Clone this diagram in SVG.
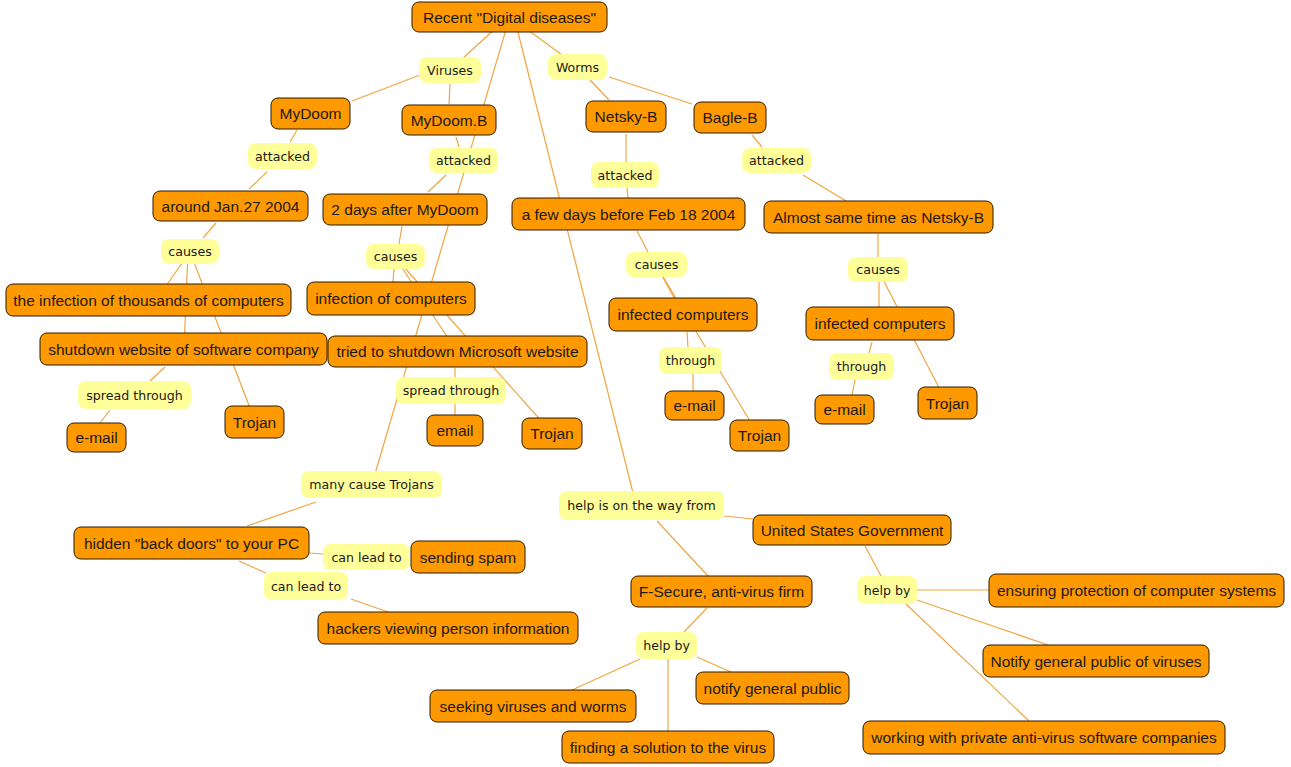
<svg xmlns="http://www.w3.org/2000/svg" width="1291" height="767" viewBox="0 0 1291 767">
<style>
.c rect{fill:#ff9900;stroke:#2a1a00;stroke-width:1}
.c text{font-family:"Liberation Sans",Arial,sans-serif;font-size:15.5px;fill:#1a1a1a;text-anchor:middle}
.l rect{fill:#ffff99;stroke:none}
.l text{font-family:"DejaVu Sans",Verdana,sans-serif;font-size:12.6px;fill:#1a1a1a;text-anchor:middle}
#edges line{stroke:#f0a540;stroke-width:1.2}
</style>
<rect width="1291" height="767" fill="#ffffff"/>
<g id="edges">
<line x1="509" y1="16" x2="450" y2="70"/>
<line x1="420" y1="75" x2="352" y2="101"/>
<line x1="450" y1="84" x2="449" y2="104"/>
<line x1="509" y1="16" x2="577" y2="66"/>
<line x1="590" y1="80" x2="609" y2="100"/>
<line x1="609" y1="77" x2="692" y2="104"/>
<line x1="510" y1="16" x2="372" y2="484"/>
<line x1="514" y1="16" x2="636" y2="505"/>
<line x1="297" y1="130" x2="290" y2="142"/>
<line x1="267" y1="172" x2="249" y2="189"/>
<line x1="456" y1="137" x2="459" y2="147"/>
<line x1="446" y1="175" x2="428" y2="192"/>
<line x1="216" y1="223" x2="203" y2="238"/>
<line x1="190" y1="252" x2="163" y2="290"/>
<line x1="188" y1="252" x2="184" y2="349"/>
<line x1="190" y1="252" x2="255" y2="421"/>
<line x1="165" y1="367" x2="150" y2="381"/>
<line x1="110" y1="410" x2="100" y2="423"/>
<line x1="402" y1="226" x2="399" y2="244"/>
<line x1="394" y1="269" x2="393" y2="282"/>
<line x1="395" y1="257" x2="457" y2="352"/>
<line x1="395" y1="257" x2="552" y2="433"/>
<line x1="455" y1="368" x2="455" y2="378"/>
<line x1="455" y1="403" x2="455" y2="415"/>
<line x1="637" y1="231" x2="648" y2="252"/>
<line x1="656" y1="265" x2="683" y2="314"/>
<line x1="656" y1="265" x2="759" y2="436"/>
<line x1="687" y1="332" x2="688" y2="347"/>
<line x1="693" y1="374" x2="693" y2="391"/>
<line x1="878" y1="234" x2="878" y2="257"/>
<line x1="879" y1="270" x2="879" y2="307"/>
<line x1="878" y1="270" x2="947" y2="403"/>
<line x1="872" y1="342" x2="869" y2="353"/>
<line x1="855" y1="380" x2="852" y2="395"/>
<line x1="752" y1="135" x2="762" y2="147"/>
<line x1="803" y1="175" x2="846" y2="201"/>
<line x1="626" y1="134" x2="626" y2="162"/>
<line x1="627" y1="188" x2="628" y2="198"/>
<line x1="316" y1="502" x2="247" y2="526"/>
<line x1="309" y1="553" x2="323" y2="554"/>
<line x1="239" y1="561" x2="266" y2="573"/>
<line x1="351" y1="599" x2="388" y2="612"/>
<line x1="724" y1="516" x2="753" y2="519"/>
<line x1="657" y1="521" x2="708" y2="576"/>
<line x1="865" y1="546" x2="881" y2="576"/>
<line x1="917" y1="590" x2="989" y2="590"/>
<line x1="917" y1="600" x2="1048" y2="645"/>
<line x1="906" y1="604" x2="1029" y2="721"/>
<line x1="707" y1="608" x2="684" y2="632"/>
<line x1="640" y1="659" x2="572" y2="690"/>
<line x1="668" y1="659" x2="668" y2="731"/>
<line x1="697" y1="657" x2="731" y2="672"/>
</g>
<g id="recent" class="c"><rect x="412" y="2" width="195" height="30" rx="7"/><text x="509.5" y="22.5">Recent "Digital diseases"</text></g>
<g id="viruses" class="l"><rect x="419" y="57" width="62" height="26" rx="8"/><text x="450" y="74.5">Viruses</text></g>
<g id="worms" class="l"><rect x="548" y="54" width="59" height="26" rx="8"/><text x="577.5" y="71.5">Worms</text></g>
<g id="mydoom" class="c"><rect x="271" y="98" width="79" height="31" rx="7"/><text x="310.5" y="119">MyDoom</text></g>
<g id="mydoomb" class="c"><rect x="402" y="105" width="94" height="30" rx="7"/><text x="449" y="125.5">MyDoom.B</text></g>
<g id="netsky" class="c"><rect x="586" y="101" width="80" height="31" rx="7"/><text x="626" y="122">Netsky-B</text></g>
<g id="bagle" class="c"><rect x="694" y="102" width="72" height="31" rx="7"/><text x="730" y="123">Bagle-B</text></g>
<g id="att1" class="l"><rect x="248" y="143" width="69" height="26" rx="8"/><text x="282.5" y="160.5">attacked</text></g>
<g id="att2" class="l"><rect x="429" y="148" width="69" height="25" rx="8"/><text x="463.5" y="165">attacked</text></g>
<g id="att3" class="l"><rect x="591" y="162" width="68" height="26" rx="8"/><text x="625" y="179.5">attacked</text></g>
<g id="att4" class="l"><rect x="742" y="148" width="69" height="25" rx="8"/><text x="776.5" y="165">attacked</text></g>
<g id="jan27" class="c"><rect x="153" y="191" width="155" height="30" rx="7"/><text x="230.5" y="211.5">around Jan.27 2004</text></g>
<g id="twodays" class="c"><rect x="323" y="194" width="164" height="31" rx="7"/><text x="405" y="215">2 days after MyDoom</text></g>
<g id="fewdays" class="c"><rect x="512" y="198" width="233" height="32" rx="7"/><text x="628.5" y="219.5">a few days before Feb 18 2004</text></g>
<g id="almost" class="c"><rect x="764" y="201" width="229" height="32" rx="7"/><text x="878.5" y="222.5">Almost same time as Netsky-B</text></g>
<g id="causes1" class="l"><rect x="161" y="239" width="58" height="25" rx="8"/><text x="190" y="256">causes</text></g>
<g id="causes2" class="l"><rect x="366" y="244" width="59" height="25" rx="8"/><text x="395.5" y="261">causes</text></g>
<g id="causes3" class="l"><rect x="626" y="252" width="61" height="25" rx="8"/><text x="656.5" y="269">causes</text></g>
<g id="causes4" class="l"><rect x="848" y="257" width="60" height="25" rx="8"/><text x="878" y="274">causes</text></g>
<g id="thousands" class="c"><rect x="6" y="284" width="285" height="32" rx="7"/><text x="148.5" y="305.5">the infection of thousands of computers</text></g>
<g id="infection" class="c"><rect x="307" y="282" width="168" height="33" rx="7"/><text x="391" y="304">infection of computers</text></g>
<g id="shutdown" class="c"><rect x="40" y="333" width="287" height="32" rx="7"/><text x="183.5" y="354.5">shutdown website of software company</text></g>
<g id="tried" class="c"><rect x="328" y="336" width="259" height="31" rx="7"/><text x="457.5" y="357">tried to shutdown Microsoft website</text></g>
<g id="infected1" class="c"><rect x="609" y="298" width="148" height="33" rx="7"/><text x="683" y="320">infected computers</text></g>
<g id="infected2" class="c"><rect x="806" y="307" width="148" height="33" rx="7"/><text x="880" y="329">infected computers</text></g>
<g id="spread1" class="l"><rect x="78" y="381" width="113" height="28" rx="8"/><text x="134.5" y="399.5">spread through</text></g>
<g id="spread2" class="l"><rect x="396" y="377" width="110" height="27" rx="8"/><text x="451" y="395">spread through</text></g>
<g id="through1" class="l"><rect x="659" y="347" width="63" height="27" rx="8"/><text x="690.5" y="365">through</text></g>
<g id="through2" class="l"><rect x="829" y="353" width="65" height="27" rx="8"/><text x="861.5" y="371">through</text></g>
<g id="email1" class="c"><rect x="67" y="423" width="59" height="29" rx="7"/><text x="96.5" y="443">e-mail</text></g>
<g id="trojan1" class="c"><rect x="225" y="406" width="59" height="32" rx="7"/><text x="254.5" y="427.5">Trojan</text></g>
<g id="email2" class="c"><rect x="427" y="415" width="56" height="31" rx="7"/><text x="455" y="436">email</text></g>
<g id="trojan2" class="c"><rect x="522" y="418" width="60" height="31" rx="7"/><text x="552" y="439">Trojan</text></g>
<g id="email3" class="c"><rect x="665" y="391" width="59" height="29" rx="7"/><text x="694.5" y="411">e-mail</text></g>
<g id="trojan3" class="c"><rect x="730" y="420" width="59" height="31" rx="7"/><text x="759.5" y="441">Trojan</text></g>
<g id="email4" class="c"><rect x="815" y="395" width="59" height="29" rx="7"/><text x="844.5" y="415">e-mail</text></g>
<g id="trojan4" class="c"><rect x="918" y="387" width="59" height="32" rx="7"/><text x="947.5" y="408.5">Trojan</text></g>
<g id="manycause" class="l"><rect x="301" y="471" width="141" height="27" rx="8"/><text x="371.5" y="489">many cause Trojans</text></g>
<g id="helpway" class="l"><rect x="559" y="491" width="165" height="29" rx="8"/><text x="641.5" y="510">help is on the way from</text></g>
<g id="usgov" class="c"><rect x="753" y="515" width="198" height="30" rx="7"/><text x="852" y="535.5">United States Government</text></g>
<g id="hidden" class="c"><rect x="74" y="527" width="235" height="32" rx="7"/><text x="191.5" y="548.5">hidden "back doors" to your PC</text></g>
<g id="lead1" class="l"><rect x="323" y="544" width="87" height="26" rx="8"/><text x="366.5" y="561.5">can lead to</text></g>
<g id="spam" class="c"><rect x="411" y="541" width="114" height="32" rx="7"/><text x="468" y="562.5">sending spam</text></g>
<g id="lead2" class="l"><rect x="264" y="572" width="84" height="28" rx="8"/><text x="306" y="590.5">can lead to</text></g>
<g id="hackers" class="c"><rect x="318" y="612" width="260" height="32" rx="7"/><text x="448" y="633.5">hackers viewing person information</text></g>
<g id="fsecure" class="c"><rect x="631" y="576" width="181" height="31" rx="7"/><text x="721.5" y="597">F-Secure, anti-virus firm</text></g>
<g id="helpby1" class="l"><rect x="857" y="576" width="60" height="28" rx="8"/><text x="887" y="594.5">help by</text></g>
<g id="ensuring" class="c"><rect x="989" y="574" width="295" height="33" rx="7"/><text x="1136.5" y="596">ensuring protection of computer systems</text></g>
<g id="notifyv" class="c"><rect x="983" y="645" width="226" height="32" rx="7"/><text x="1096" y="666.5">Notify general public of viruses</text></g>
<g id="helpby2" class="l"><rect x="636" y="632" width="61" height="27" rx="8"/><text x="666.5" y="650">help by</text></g>
<g id="notifyp" class="c"><rect x="696" y="672" width="153" height="32" rx="7"/><text x="772.5" y="693.5">notify general public</text></g>
<g id="seeking" class="c"><rect x="430" y="690" width="206" height="32" rx="7"/><text x="533" y="711.5">seeking viruses and worms</text></g>
<g id="finding" class="c"><rect x="562" y="731" width="212" height="32" rx="7"/><text x="668" y="752.5">finding a solution to the virus</text></g>
<g id="working" class="c"><rect x="863" y="721" width="362" height="33" rx="7"/><text x="1044" y="743">working with private anti-virus software companies</text></g>
</svg>
